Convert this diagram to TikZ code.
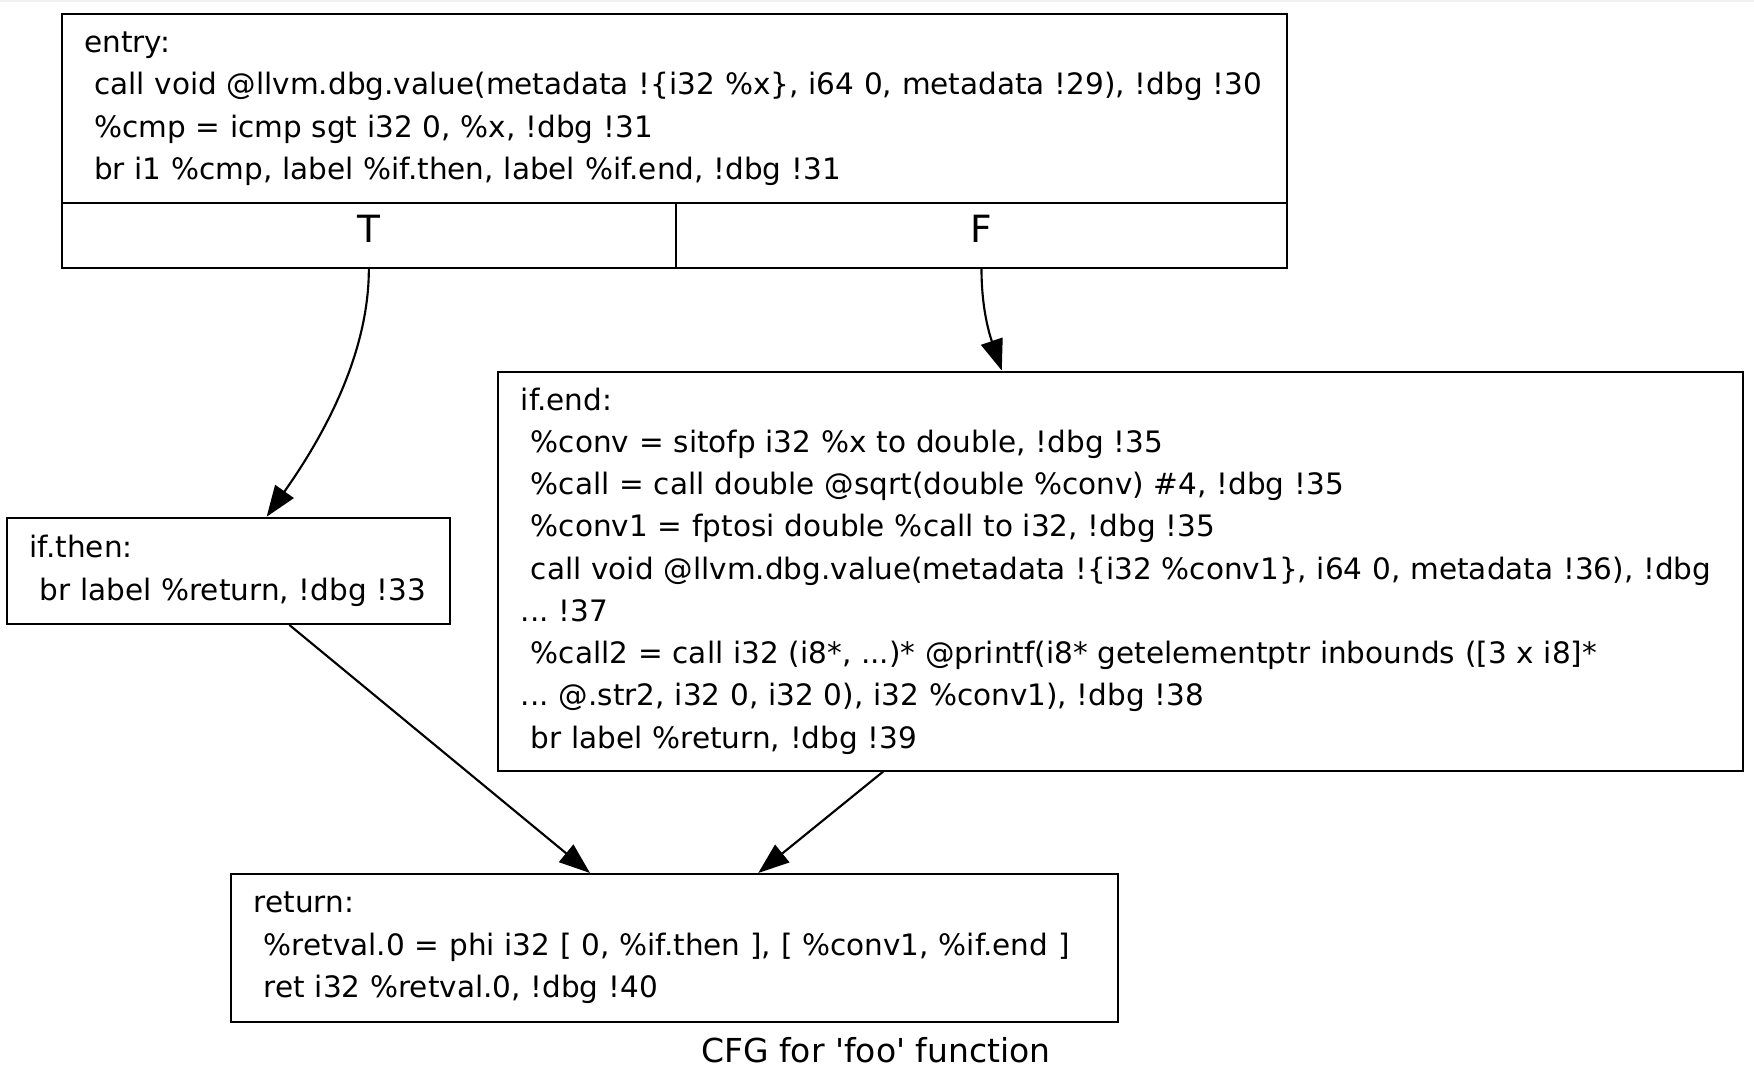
\documentclass[tikz,border=0pt]{standalone}
\usepackage{fontspec}
\setmainfont{DejaVu Sans}
\setmonofont{DejaVu Sans}
\usetikzlibrary{arrows.meta}
\frenchspacing
\begin{document}
\begin{tikzpicture}[x=0.4pt,y=-0.4pt,
  txt/.style={font=\fontsize{11.8}{16.9}\selectfont\frenchspacing},
  blk/.style={txt, draw, line width=0.8pt, rectangle, align=left, inner xsep=9pt, inner ysep=0pt},
  cell/.style={draw, line width=0.8pt, rectangle, inner sep=0pt, font=\fontsize{15}{18}\selectfont, text height=10.9pt, text depth=5.3pt},
  edge/.style={line width=0.85pt, -{Triangle[length=12.4pt,width=9pt]}}]
\useasboundingbox (0,0) rectangle (1754,1075);
\draw[gray!12, line width=0.8pt] (0,1) -- (1754,1);

\node[blk, text width=472.1pt, minimum height=75.7pt] (entry) at (674.35,108.65)
 {\mbox{entry:}\\
  \mbox{\ call void @llvm.dbg.value(metadata !\{i32 \%x\}, i64 0, metadata !29), !dbg !30}\\
  \mbox{\ \%cmp = icmp sgt i32 0, \%x, !dbg !31}\\
  \mbox{\ br i1 \%cmp, label \%if.then, label \%if.end, !dbg !31}};
\node[cell, minimum width=245.7pt, minimum height=25.9pt] (entryT) at (368.85,235.65) {T};
\node[cell, minimum width=244.4pt, minimum height=25.9pt] (entryF) at (981.5,235.65) {F};

\node[blk, text width=159.1pt, minimum height=42.5pt] (ifthen) at (228.65,570.85)
 {\mbox{if.then:}\\
  \mbox{\ br label \%return, !dbg !33}};

\node[blk, text width=479.8pt, minimum height=159.6pt] (ifend) at (1120.75,571)
 {\mbox{if.end:}\\
  \mbox{\ \%conv = sitofp i32 \%x to double, !dbg !35}\\
  \mbox{\ \%call = call double @sqrt(double \%conv) \#4, !dbg !35}\\
  \mbox{\ \%conv1 = fptosi double \%call to i32, !dbg !35}\\
  \mbox{\ call void @llvm.dbg.value(metadata !\{i32 \%conv1\}, i64 0, metadata !36), !dbg}\\
  \mbox{... !37}\\
  \mbox{\ \%call2 = call i32 (i8*, ...)* @printf(i8* getelementptr inbounds ([3 x i8]*}\\
  \mbox{... @.str2, i32 0, i32 0), i32 \%conv1), !dbg !38}\\
  \mbox{\ br label \%return, !dbg !39}};

\node[blk, text width=336.6pt, minimum height=59.1pt] (return) at (674.75,947.85)
 {\mbox{return:}\\
  \mbox{\ \%retval.0 = phi i32 [ 0, \%if.then ], [ \%conv1, \%if.end ]}\\
  \mbox{\ ret i32 \%retval.0, !dbg !40}};

\node[font=\ttfamily\fontsize{13.2}{16.9}\selectfont, anchor=base, inner sep=0pt] (caption) at (876,1062) {CFG for 'foo' function};

\draw[edge] (entryT.south) .. controls (368.8,348) and (330,427) .. ([xshift=15.2pt]ifthen.north);
\draw[edge] (entryF.south) .. controls (981.5,305) and (988,330) .. ([xshift=-47.6pt]ifend.north);
\draw[edge] ([xshift=24.3pt]ifthen.south) -- ([xshift=-33.9pt]return.north);
\draw[edge] ([xshift=-95pt]ifend.south) -- ([xshift=33.4pt]return.north);
\end{tikzpicture}
\end{document}
